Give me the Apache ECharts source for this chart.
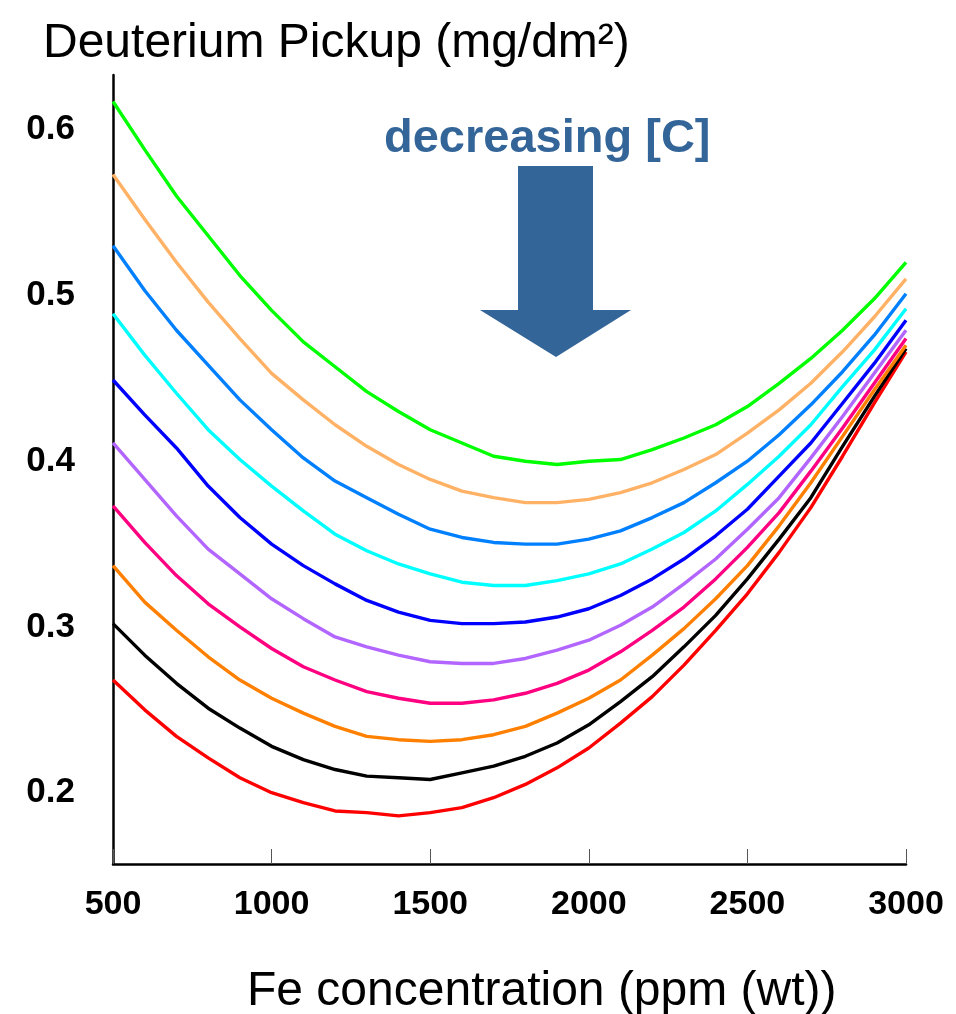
<!DOCTYPE html>
<html lang="en">
<head>
    <meta charset="UTF-8">
    <title>Deuterium Pickup</title>
    <script src="https://cdn.jsdelivr.net/npm/echarts@6/dist/echarts.min.js"></script>
    <style>
        html, body { margin: 0; padding: 0; background: #fff; }
    </style>
</head>
<body>
    <div id="main" style="width: 956px;height:1014px;"></div>
</body>

<script>
    var myChart = echarts.init(document.getElementById('main'));

    // Fe concentration (ppm wt)
    var feConc = [500, 600, 700, 800, 900, 1000, 1100, 1200, 1300, 1400, 1500, 1600, 1700,
        1800, 1900, 2000, 2100, 2200, 2300, 2400, 2500, 2600, 2700, 2800, 2900, 3000];

    // curves, highest [C] first
    var cGreen  = [0.617, 0.588, 0.560, 0.536, 0.512, 0.491, 0.472, 0.457, 0.442, 0.430, 0.419, 0.411, 0.403,
        0.400, 0.398, 0.400, 0.401, 0.407, 0.414, 0.422, 0.433, 0.447, 0.462, 0.479, 0.498, 0.520];
    var cTan    = [0.573, 0.546, 0.520, 0.496, 0.474, 0.453, 0.437, 0.422, 0.409, 0.398, 0.389, 0.382, 0.378,
        0.375, 0.375, 0.377, 0.381, 0.387, 0.395, 0.404, 0.417, 0.431, 0.447, 0.466, 0.487, 0.510];
    var cAzure  = [0.530, 0.503, 0.479, 0.458, 0.437, 0.419, 0.402, 0.388, 0.378, 0.368, 0.359, 0.354, 0.351,
        0.350, 0.350, 0.353, 0.358, 0.366, 0.375, 0.387, 0.400, 0.416, 0.434, 0.454, 0.476, 0.501];
    var cCyan   = [0.489, 0.464, 0.441, 0.419, 0.401, 0.385, 0.370, 0.356, 0.346, 0.338, 0.332, 0.327, 0.325,
        0.325, 0.328, 0.332, 0.338, 0.347, 0.357, 0.370, 0.386, 0.403, 0.422, 0.445, 0.467, 0.492];
    var cBlue   = [0.449, 0.428, 0.408, 0.385, 0.366, 0.350, 0.337, 0.326, 0.316, 0.309, 0.304, 0.302, 0.302,
        0.303, 0.306, 0.311, 0.319, 0.329, 0.341, 0.355, 0.371, 0.391, 0.411, 0.435, 0.459, 0.485];
    var cPurple = [0.411, 0.389, 0.367, 0.347, 0.332, 0.317, 0.305, 0.294, 0.288, 0.283, 0.279, 0.278, 0.278,
        0.281, 0.286, 0.292, 0.301, 0.312, 0.326, 0.341, 0.359, 0.378, 0.402, 0.427, 0.453, 0.479];
    var cPink   = [0.373, 0.351, 0.331, 0.314, 0.300, 0.287, 0.276, 0.268, 0.261, 0.257, 0.254, 0.254, 0.256,
        0.260, 0.266, 0.274, 0.285, 0.298, 0.312, 0.329, 0.348, 0.369, 0.394, 0.420, 0.447, 0.474];
    var cOrange = [0.337, 0.315, 0.298, 0.282, 0.268, 0.257, 0.248, 0.240, 0.234, 0.232, 0.231, 0.232, 0.235,
        0.240, 0.248, 0.257, 0.268, 0.283, 0.299, 0.317, 0.337, 0.361, 0.387, 0.415, 0.443, 0.470];
    var cBlack  = [0.302, 0.283, 0.266, 0.251, 0.239, 0.228, 0.220, 0.214, 0.210, 0.209, 0.208, 0.212, 0.216,
        0.222, 0.230, 0.241, 0.255, 0.270, 0.288, 0.307, 0.329, 0.353, 0.378, 0.409, 0.439, 0.468];
    var cRed    = [0.268, 0.250, 0.234, 0.221, 0.209, 0.200, 0.194, 0.189, 0.188, 0.186, 0.188, 0.191, 0.197,
        0.205, 0.215, 0.227, 0.242, 0.258, 0.277, 0.298, 0.320, 0.345, 0.372, 0.403, 0.435, 0.466];

    var curves = [cGreen, cTan, cAzure, cCyan, cBlue, cPurple, cPink, cOrange, cBlack, cRed];
    var colors = ['#00ff00', '#ffb266', '#0080ff', '#00ffff', '#0000ff',
        '#b266ff', '#ff0080', '#ff8000', '#000000', '#ff0000'];

    var yLabels = [0.2, 0.3, 0.4, 0.5, 0.6];
    var arrowColor = '#346599';
    var fontFam = '"Liberation Sans", Arial, sans-serif';

    var series = [];
    curves.forEach(function (c, i) {
        series.push({
            type: 'line',
            data: feConc.map(function (x, j) { return [x, c[j]]; }),
            showSymbol: false,
            smooth: false,
            lineStyle: { color: colors[i], width: 3.4 },
            z: 10 - i
        });
    });

    var option = {
        animation: false,
        backgroundColor: '#fff',
        title: [{
            text: 'Deuterium Pickup (mg/dm²)',
            left: 38,
            top: 15,
            textStyle: { fontFamily: fontFam, fontSize: 48, fontWeight: 'normal', color: '#000' }
        }, {
            text: 'Fe concentration (ppm (wt))',
            left: 242,
            top: 963,
            textStyle: { fontFamily: fontFam, fontSize: 48, fontWeight: 'normal', color: '#000' }
        }],
        grid: { left: 113, right: 50, top: 75, bottom: 150, containLabel: false },
        xAxis: {
            type: 'value',
            min: 500,
            max: 3000,
            interval: 500,
            axisLine: { show: true, lineStyle: { color: '#000', width: 2.5 } },
            axisTick: { show: true, inside: true, length: 15, lineStyle: { color: '#555', width: 1 } },
            splitLine: { show: false },
            axisLabel: {
                margin: 24,
                formatter: function (v) { return String(v); },
                fontFamily: fontFam, fontSize: 34, fontWeight: 'bold', color: '#000'
            }
        },
        yAxis: {
            type: 'value',
            min: 0.157,
            max: 0.633,
            axisLine: { show: true, lineStyle: { color: '#000', width: 2.5 } },
            axisTick: { show: false },
            splitLine: { show: false },
            axisLabel: {
                customValues: yLabels,
                margin: 38,
                formatter: function (v) { return v.toFixed(1); },
                fontFamily: fontFam, fontSize: 35, fontWeight: 'bold', color: '#000'
            }
        },
        graphic: [{
            type: 'text',
            x: 384,
            y: 139,
            style: {
                text: 'decreasing [C]',
                font: 'bold 47px ' + fontFam,
                fill: arrowColor,
                align: 'left',
                verticalAlign: 'middle'
            }
        }, {
            // big arrow pointing down
            type: 'polygon',
            shape: {
                points: [[518, 166], [593, 166], [593, 310], [631, 310], [556, 357], [480, 310], [518, 310]]
            },
            style: { fill: arrowColor }
        }],
        series: series
    };

    myChart.setOption(option);
</script>
</html>
